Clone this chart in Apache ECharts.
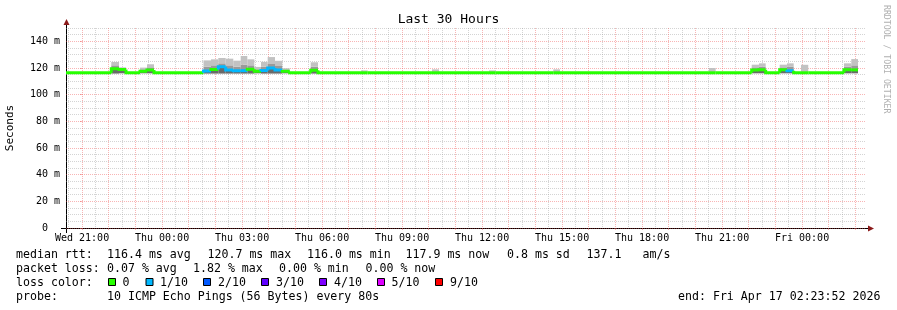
<!DOCTYPE html>
<html><head><meta charset="utf-8">
<script src="https://cdn.jsdelivr.net/npm/echarts@6/dist/echarts.min.js"></script>
<style>html,body{margin:0;padding:0;background:#fff}#c{width:897px;height:310px}</style>
</head><body><div id="c"></div>
<script>
// ---- axis data (x in hours relative to Wed 21:00) ----
const xStartH = -0.6022;   // Wed 20:23:52
const xEndH = 29.3978;     // Fri 02:23:52
const xLabelHours = [0, 3, 6, 9, 12, 15, 18, 21, 24, 27];
const xLabelTexts = ['Wed 21:00','Thu 00:00','Thu 03:00','Thu 06:00','Thu 09:00','Thu 12:00','Thu 15:00','Thu 18:00','Thu 21:00','Fri 00:00'];
const yLabelValues = [0, 20, 40, 60, 80, 100, 120, 140];
const yLabelTexts = ['0  ', '20 m', '40 m', '60 m', '80 m', '100 m', '120 m', '140 m'];
const yMax = 150;

// ---- series data: segments (boundaries in hours), one value per segment ----
const segTime = [-0.602, 1.096, 1.385, 1.648, 2.173, 2.435, 2.698, 4.554, 4.835, 5.109, 5.386, 5.671, 5.949, 6.197, 6.459, 6.710, 6.961, 7.235, 7.509, 7.786, 8.574, 8.848, 10.460, 10.711, 13.122, 13.385, 15.260, 15.511, 17.671, 17.922, 23.510, 23.761, 25.111, 25.384, 25.636, 26.161, 26.434, 26.686, 26.960, 27.233, 28.572, 28.846, 29.097];
const medianMs = [116.4, 119.5, 118.8, 116.4, 117.6, 118.5, 116.4, 117.8, 118.8, 121.0, 118.5, 118.0, 118.0, 119.0, 117.5, 118.2, 120.0, 118.5, 117.5, 116.4, 118.3, 116.4, 116.4, 116.4, 116.4, 116.4, 116.4, 116.4, 116.4, 116.4, 116.4, 116.4, 118.5, 118.6, 116.4, 118.6, 117.9, 116.4, 116.4, 116.4, 118.6, 118.6];
const lossIdx = [0, 0, 0, 0, 0, 0, 0, 1, 0, 1, 1, 1, 1, 0, 0, 1, 1, 1, 0, 0, 0, 0, 0, 0, 0, 0, 0, 0, 0, 0, 0, 0, 0, 0, 0, 0, 1, 0, 0, 0, 0, 0];
const smokeMin = [null, 115.8, 116.0, null, 116.0, 116.0, null, 115.8, 115.8, 115.8, 115.8, 115.8, 115.8, 115.8, 116.0, 115.8, 115.8, 115.8, 116.0, null, 115.8, null, 116.4, null, 116.4, null, 116.4, null, 116.4, null, 116.4, null, 116.0, 116.0, null, 116.0, 116.0, null, 116.4, null, 116.0, 116.0];
const smokeMid = [null, 122.0, 119.8, null, 119.0, 120.5, null, 121.0, 122.0, 123.5, 122.0, 121.0, 122.5, 122.0, 119.0, 121.0, 123.0, 121.5, 118.5, null, 121.0, null, 116.4, null, 116.4, null, 116.4, null, 116.4, null, 116.4, null, 120.5, 121.0, null, 120.5, 121.0, null, 116.4, null, 121.0, 122.0];
const smokeMax = [null, 124.5, 120.5, null, 120.3, 122.8, null, 125.7, 126.5, 127.5, 127.0, 125.5, 129.0, 126.5, 120.8, 124.6, 128.2, 125.4, 119.8, null, 124.3, null, 118.2, null, 119.0, null, 118.2, null, 119.0, null, 120.0, null, 122.5, 123.5, null, 122.5, 123.5, null, 122.4, null, 123.5, 126.7];

// ---- legend data ----
const lossColors = ['#26ff00', '#00b8ff', '#0059ff', '#5e00ff', '#7e00ff', '#dd00ff', '#ff0000'];
const lossLabels = ['0', '1/10', '2/10', '3/10', '4/10', '5/10', '9/10'];
const statsRtt = ['116.4 ms avg', '120.7 ms max', '116.0 ms min', '117.9 ms now', '0.8 ms sd', '137.1', 'am/s'];
const statsLoss = ['0.07 % avg', '1.82 % max', '0.00 % min', '0.00 % now'];
const probeText = '10 ICMP Echo Pings (56 Bytes) every 80s';
const endText = 'end: Fri Apr 17 02:23:52 2026';

// ---- build tables ----
const segRows = medianMs.map((m, i) => [
  segTime[i], segTime[i + 1],
  smokeMin[i] == null ? '-' : smokeMin[i],
  smokeMid[i] == null ? '-' : smokeMid[i],
  smokeMax[i] == null ? '-' : smokeMax[i],
  m, i > 0 ? medianMs[i - 1] : m, lossIdx[i]
]);

const hourly = [], halfHourly = [];
for (let h = Math.ceil(xStartH); h <= xEndH; h++) hourly.push(h);
for (let h = Math.ceil(xStartH - 0.5) + 0.5; h <= xEndH; h += 1) halfHourly.push(h);
const yMinor = [];
for (let v = 5; v <= yMax; v += 5) if (v % 20 !== 0) yMinor.push(v);

const MONO = '"DejaVu Sans Mono", monospace';
const majorColor = 'rgba(240,90,90,0.45)';
const minorColor = 'rgba(160,160,160,0.45)';

const chart = echarts.init(document.getElementById('c'), null, {renderer: 'canvas'});

const gfx = [];
function txt(x, y, s, opts) {
  gfx.push(Object.assign({type: 'text', x: x, y: y, silent: true,
    style: Object.assign({text: s, fill: '#000', font: '11.6px ' + MONO, align: 'left', verticalAlign: 'middle'}, opts || {})}));
}
// legend lines
txt(16, 254.5, 'median rtt:');
const rttX = [107, 207.5, 307, 405.5, 507, 586.5, 642.5];
statsRtt.forEach((s, i) => txt(rttX[i], 254.5, s));
txt(16, 268.5, 'packet loss:');
const lossX = [107, 193, 279, 365.5];
statsLoss.forEach((s, i) => txt(lossX[i], 268.5, s));
txt(16, 282.5, 'loss color:');
const boxX = [108, 145.5, 203, 261, 319, 377, 435];
const labX = [122.5, 160, 218, 276, 334, 391.5, 450];
lossLabels.forEach((s, i) => {
  gfx.push({type: 'rect', silent: true, shape: {x: boxX[i] + 0.5, y: 278.5, width: 7, height: 7},
    style: {fill: lossColors[i], stroke: '#000', lineWidth: 1}});
  txt(labX[i], 282.5, s);
});
txt(16, 296.5, 'probe:');
txt(107, 296.5, probeText);
txt(678, 296.5, endText);
// side credit
gfx.push({type: 'text', x: 886, y: 5, rotation: -Math.PI / 2, silent: true,
  style: {text: 'RRDTOOL / TOBI OETIKER', fill: '#b0b0b0', font: '8.2px ' + MONO, align: 'left', verticalAlign: 'middle'}});
// axis extensions and arrows
gfx.push({type: 'line', silent: true, shape: {x1: 61, y1: 228.5, x2: 869, y2: 228.5}, style: {stroke: '#000', lineWidth: 1}});
gfx.push({type: 'line', silent: true, shape: {x1: 66.5, y1: 233, x2: 66.5, y2: 23}, style: {stroke: '#000', lineWidth: 1}});
gfx.push({type: 'polygon', silent: true, shape: {points: [[868, 225.5], [874, 228.5], [868, 231.5]]}, style: {fill: '#8b1a1a'}});
gfx.push({type: 'polygon', silent: true, shape: {points: [[63.5, 25], [66.5, 19], [69.5, 25]]}, style: {fill: '#8b1a1a'}});

const option = {
  animation: false,
  backgroundColor: '#ffffff',
  title: {text: 'Last 30 Hours', left: 'center', top: 8,
    textStyle: {fontFamily: MONO, fontSize: 13, fontWeight: 'normal', color: '#000'}},
  grid: {left: 66, right: 31, top: 28, bottom: 82, containLabel: false, outerBoundsMode: 'none'},
  xAxis: [
    {type: 'value', min: xStartH, max: xEndH, gridIndex: 0,
      axisLine: {show: false},
      axisTick: {show: true, customValues: hourly, length: 2, lineStyle: {color: majorColor}},
      axisLabel: {show: true, customValues: xLabelHours, margin: 5, fontFamily: MONO, fontSize: 10, color: '#000',
        formatter: v => { const i = xLabelHours.indexOf(Math.round(v)); return i >= 0 ? xLabelTexts[i] : ''; }},
      splitLine: {show: true, lineStyle: {color: majorColor, type: [1, 1], width: 1}}},
    {type: 'value', min: xStartH, max: xEndH, gridIndex: 0,
      axisLine: {show: false}, axisLabel: {show: false},
      axisTick: {show: false, customValues: halfHourly},
      splitLine: {show: true, lineStyle: {color: minorColor, type: [1, 1], width: 1}}}
  ],
  yAxis: [
    {type: 'value', min: 0, max: yMax, gridIndex: 0,
      name: 'Seconds', nameLocation: 'middle', nameRotate: 90, nameGap: 50,
      nameTextStyle: {fontFamily: MONO, fontSize: 11, color: '#000'},
      axisLine: {show: false},
      axisTick: {show: true, customValues: yLabelValues, length: 2, lineStyle: {color: majorColor}},
      axisLabel: {show: true, customValues: yLabelValues, margin: 6, fontFamily: MONO, fontSize: 10, color: '#000',
        formatter: v => { const i = yLabelValues.indexOf(Math.round(v)); return i >= 0 ? yLabelTexts[i] : ''; }},
      splitLine: {show: true, lineStyle: {color: majorColor, type: [1, 1], width: 1}}},
    {type: 'value', min: 0, max: yMax, gridIndex: 0,
      axisLine: {show: false}, axisLabel: {show: false},
      axisTick: {show: false, customValues: yMinor},
      splitLine: {show: true, lineStyle: {color: minorColor, type: [1, 1], width: 1}}}
  ],
  series: [
    {type: 'custom', name: 'smoke', xAxisIndex: 0, yAxisIndex: 0, clip: true, z: 3,
      data: segRows,
      encode: {x: [0, 1], y: [2, 3, 4, 5]},
      renderItem: function (params, api) {
        const t0 = api.value(0), t1 = api.value(1);
        const lo = api.value(2), md = api.value(3), hi = api.value(4), med = api.value(5);
        if (isNaN(hi)) return null;
        const bands = [[lo, med, '#6a6a6a'], [med, md, '#9a9a9a'], [md, hi, '#c2c2c2']];
        const children = [];
        bands.forEach(b => {
          if (b[1] <= b[0]) return;
          const pA = api.coord([t0, b[1]]), pB = api.coord([t1, b[0]]);
          children.push({type: 'rect', shape: {x: pA[0], y: pA[1], width: pB[0] - pA[0], height: pB[1] - pA[1]},
            style: {fill: b[2]}});
        });
        return {type: 'group', children: children};
      }},
    {type: 'custom', name: 'median', xAxisIndex: 0, yAxisIndex: 0, clip: true, z: 4,
      data: segRows,
      encode: {x: [0, 1], y: [5]},
      renderItem: function (params, api) {
        const t0 = api.value(0), t1 = api.value(1), med = api.value(5), prev = api.value(6);
        const col = lossColors[api.value(7)];
        const a = api.coord([t0, prev]), b = api.coord([t0, med]), c = api.coord([t1, med]);
        return {type: 'polyline', shape: {points: [a, b, c]},
          style: {stroke: col, lineWidth: 3, fill: null, lineJoin: 'miter'}};
      }}
  ],
  graphic: gfx
};
chart.setOption(option);
</script>
</body></html>
